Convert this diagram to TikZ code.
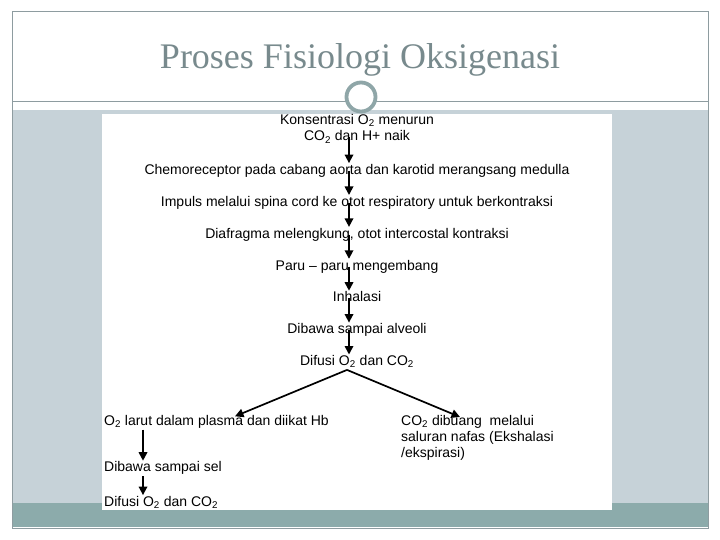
\documentclass[tikz,border=0pt]{standalone}
\usepackage{fontspec}
\setmainfont{Liberation Sans}
\newfontfamily\titlefont{Liberation Serif}
\usetikzlibrary{arrows.meta,calc,positioning}
\definecolor{framegray}{HTML}{8E9CA0}
\definecolor{panelblue}{HTML}{C6D2D8}
\definecolor{bandteal}{HTML}{8CABAB}
\definecolor{ringteal}{HTML}{8FA6A8}
\definecolor{titlegray}{HTML}{788A8D}

\begin{document}
\begin{tikzpicture}[
    x=1pt, y=-1pt,
    node distance=16.5pt,
    flowtext/.style={inner sep=1pt, text height=10pt, text depth=3pt, font=\fontsize{14}{16}\selectfont},
    sidetext/.style={inner sep=1pt, align=left, font=\fontsize{14}{16}\selectfont},
    arrow/.style={line width=1.7pt, -{Triangle[length=8.5pt, width=8.5pt]}}
]
    \useasboundingbox (0,0) rectangle (720,540);
    % slide background
    \fill[white] (0,0) rectangle (720,540);
    \fill[panelblue] (12,110) rectangle (708,503);
    \fill[bandteal] (12,503) rectangle (708,527);
    \draw[framegray, line width=1pt] (12,12) rectangle (708,528);
    \draw[framegray, line width=0.8pt] (12,101) -- (708,101);
    \fill[white] (102,114) rectangle (612,510);
    \node (title) [text=titlegray, font=\titlefont\fontsize{36}{42}\selectfont] at (360,60) {Proses Fisiologi Oksigenasi};
    \draw[ringteal, line width=3.8pt, fill=white] (361,97) circle (14.5);

    % main chain
    \node (konsen) [flowtext] at (357,121) {Konsentrasi O\textsubscript{2} menurun};
    \node (naik) [flowtext, below=1pt of konsen] {CO\textsubscript{2} dan H+ naik};
    \node (chemo) [flowtext, below=18pt of naik] {Chemoreceptor pada cabang aorta dan karotid merangsang medulla};
    \node (impuls) [flowtext, below=of chemo] {Impuls melalui spina cord ke otot respiratory untuk berkontraksi};
    \node (diafragma) [flowtext, below=of impuls] {Diafragma melengkung, otot intercostal kontraksi};
    \node (paru) [flowtext, below=of diafragma] {Paru -- paru mengembang};
    \node (inhalasi) [flowtext, below=of paru] {Inhalasi};
    \node (alveoli) [flowtext, below=of inhalasi] {Dibawa sampai alveoli};
    \node (difusi) [flowtext, below=of alveoli] {Difusi O\textsubscript{2} dan CO\textsubscript{2}};

    % two branches
    \node (plasma) [flowtext, anchor=west] at (103,422) {O\textsubscript{2} larut dalam plasma dan diikat Hb};
    \node (buang) [sidetext, anchor=north west] at (400,414) {CO\textsubscript{2} dibuang\ \ melalui\\saluran nafas (Ekshalasi\\/ekspirasi)};
    \node (sel) [flowtext, below=31pt of plasma.south west, anchor=north west] {Dibawa sampai sel};
    \node (difusisel) [flowtext, below=19pt of sel.south west, anchor=north west] {Difusi O\textsubscript{2} dan CO\textsubscript{2}};

    \draw [arrow] ([xshift=-8pt]naik.center) -- ([xshift=-8pt]chemo.north);
    \draw [arrow] ([xshift=-8pt]chemo.center) -- ([xshift=-8pt]impuls.north);
    \draw [arrow] ([xshift=-8pt]impuls.center) -- ([xshift=-8pt]diafragma.north);
    \draw [arrow] ([xshift=-8pt]diafragma.center) -- ([xshift=-8pt]paru.north);
    \draw [arrow] ([xshift=-8pt]paru.center) -- ([xshift=-8pt]inhalasi.north);
    \draw [arrow] ([xshift=-8pt]inhalasi.center) -- ([xshift=-8pt]alveoli.north);
    \draw [arrow] ([xshift=-8pt]alveoli.center) -- ([xshift=-8pt]difusi.north);
    \draw [arrow] ([xshift=-10pt]difusi.south) -- ([xshift=132pt,yshift=-2pt]plasma.north west);
    \draw [arrow] ([xshift=-10pt]difusi.south) -- ([xshift=60pt,yshift=-3pt]buang.north west);
    \draw [arrow] ([xshift=40pt]plasma.south west) -- ([xshift=40pt]sel.north west);
    \draw [arrow] ([xshift=40pt]sel.south west) -- ([xshift=40pt]difusisel.north west);
\end{tikzpicture}
\end{document}
